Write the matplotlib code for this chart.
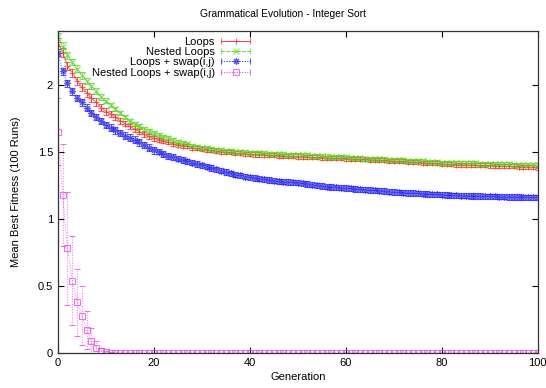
import matplotlib
matplotlib.use("Agg")
import matplotlib.pyplot as plt
from matplotlib.ticker import FormatStrFormatter
from matplotlib.legend_handler import HandlerErrorbar

# -----------------------------
# Data
# -----------------------------
generations = list(range(101))

loops = [
    2.32, 2.24, 2.14, 2.09, 2.03, 1.98, 1.94, 1.90, 1.87, 1.83, 1.80,
    1.78, 1.76, 1.73, 1.71, 1.69, 1.67, 1.65, 1.63, 1.615, 1.60,
    1.59, 1.58, 1.57, 1.56, 1.55, 1.545, 1.54, 1.53, 1.525, 1.52,
    1.515, 1.51, 1.505, 1.50, 1.50, 1.495, 1.49, 1.49, 1.485, 1.485,
    1.48, 1.48, 1.478, 1.476, 1.474, 1.472, 1.47, 1.468, 1.466, 1.465,
    1.463, 1.462, 1.46, 1.458, 1.457, 1.455, 1.454, 1.452, 1.451, 1.45,
    1.448, 1.446, 1.445, 1.443, 1.441, 1.44, 1.438, 1.436, 1.434, 1.432,
    1.43, 1.428, 1.426, 1.424, 1.422, 1.42, 1.418, 1.416, 1.413, 1.41,
    1.408, 1.406, 1.405, 1.404, 1.403, 1.402, 1.401, 1.400, 1.399, 1.398,
    1.396, 1.394, 1.393, 1.392, 1.391, 1.39, 1.388, 1.386, 1.384, 1.382,
]
loops_err = [
    0.03, 0.03, 0.03, 0.03, 0.03, 0.03, 0.03, 0.028, 0.028, 0.026, 0.025,
    0.024, 0.023, 0.022, 0.021, 0.02, 0.02, 0.019, 0.018, 0.018, 0.017,
] + [0.015] * 80

nested = [
    2.36, 2.29, 2.22, 2.17, 2.12, 2.07, 2.03, 1.99, 1.95, 1.91, 1.88,
    1.85, 1.82, 1.79, 1.76, 1.73, 1.71, 1.69, 1.67, 1.655, 1.64,
    1.625, 1.61, 1.60, 1.585, 1.575, 1.565, 1.555, 1.545, 1.538, 1.53,
    1.525, 1.52, 1.515, 1.51, 1.507, 1.504, 1.501, 1.498, 1.496, 1.494,
    1.492, 1.49, 1.488, 1.486, 1.484, 1.482, 1.48, 1.479, 1.478, 1.477,
    1.475, 1.473, 1.471, 1.469, 1.467, 1.465, 1.463, 1.461, 1.46, 1.458,
    1.456, 1.454, 1.452, 1.45, 1.448, 1.446, 1.445, 1.443, 1.442, 1.44,
    1.438, 1.436, 1.434, 1.432, 1.43, 1.428, 1.426, 1.424, 1.422, 1.42,
    1.419, 1.418, 1.417, 1.416, 1.415, 1.414, 1.413, 1.412, 1.411, 1.41,
    1.409, 1.408, 1.407, 1.406, 1.405, 1.404, 1.403, 1.402, 1.401, 1.40,
]
nested_err = [
    0.025, 0.025, 0.025, 0.025, 0.024, 0.024, 0.023, 0.022, 0.022, 0.021, 0.02,
] + [0.015] * 90

swap = [
    2.24, 2.10, 2.01, 1.95, 1.90, 1.87, 1.83, 1.79, 1.76, 1.73, 1.70,
    1.68, 1.66, 1.64, 1.62, 1.605, 1.59, 1.57, 1.55, 1.53, 1.51,
    1.50, 1.485, 1.47, 1.46, 1.45, 1.44, 1.43, 1.42, 1.41, 1.40,
    1.39, 1.38, 1.37, 1.36, 1.35, 1.34, 1.33, 1.325, 1.315, 1.31,
    1.305, 1.30, 1.295, 1.29, 1.285, 1.28, 1.278, 1.275, 1.272, 1.27,
    1.265, 1.26, 1.255, 1.25, 1.245, 1.24, 1.238, 1.235, 1.232, 1.23,
    1.227, 1.224, 1.22, 1.218, 1.215, 1.212, 1.21, 1.207, 1.204, 1.20,
    1.198, 1.196, 1.194, 1.192, 1.19, 1.188, 1.186, 1.184, 1.182, 1.18,
    1.178, 1.176, 1.175, 1.174, 1.173, 1.172, 1.171, 1.17, 1.169, 1.168,
    1.167, 1.166, 1.165, 1.164, 1.163, 1.162, 1.161, 1.16, 1.16, 1.16,
]
swap_err = [0.025] * 21 + [0.02] * 80

nested_swap = [
    1.65, 1.18, 0.78, 0.54, 0.38, 0.28, 0.17, 0.09, 0.04, 0.015, 0.005,
    0.002,
] + [0.0] * 89
nested_swap_err = [
    0.25, 0.38, 0.42, 0.33, 0.25, 0.22, 0.14, 0.10, 0.05, 0.025, 0.01,
    0.005,
] + [0.0] * 89

labels = ["Loops", "Nested Loops", "Loops + swap(i,j)", "Nested Loops + swap(i,j)"]

# -----------------------------
# Plot
# -----------------------------
plt.rcParams["font.family"] = ["Liberation Sans", "DejaVu Sans"]
plt.rcParams["font.size"] = 8

fig = plt.figure(figsize=(5.46, 3.88), dpi=100)
ax = fig.add_axes([0.106, 0.090, 0.879, 0.830])

series = [
    (loops, loops_err, "#ff3030", "+", "-", 5),
    (nested, nested_err, "#55dd22", "x", "--", 4),
    (swap, swap_err, "#2222ff", (8, 2, 0), ":", 5),
    (nested_swap, nested_swap_err, "#ee44ee", "s", ":", 4),
]

handles = []
for (vals, err, color, marker, ls, ms), label in zip(series, labels):
    style = dict(
        color=color, alpha=0.75, linewidth=0.7, linestyle=ls,
        marker=marker, markersize=ms, markerfacecolor="none",
        markeredgewidth=0.8, elinewidth=0.7, capsize=2.0, capthick=0.7,
    )
    eb = ax.errorbar(generations, vals, yerr=err, **style)
    eb[-1][0].set_linestyle(ls)
    # gnuplot-style legend sample: horizontal bar with end caps
    dummy = ax.errorbar([-50], [-50], xerr=[1], label=label, **style)
    dummy[-1][0].set_linestyle(ls)
    handles.append(dummy)

ax.set_xlim(0, 100)
ax.set_ylim(0, 2.4)
ax.set_xticks([0, 20, 40, 60, 80, 100])
ax.set_yticks([0, 0.5, 1, 1.5, 2])
ax.yaxis.set_major_formatter(FormatStrFormatter("%g"))
ax.tick_params(direction="in", top=True, right=True, length=4, width=0.8)
for sp in ax.spines.values():
    sp.set_linewidth(0.9)
    sp.set_color("#333333")

fig.text(283 / 546, 1 - 14 / 388, "Grammatical Evolution - Integer Sort",
         fontsize=7.4, ha="center", va="center")
ax.set_xlabel("Generation", fontsize=8, labelpad=3)
ax.set_ylabel("Mean Best Fitness (100 Runs)", fontsize=8, labelpad=12)

leg = ax.legend(
    handles=handles, labels=labels,
    loc="upper right", bbox_to_anchor=(258 / 546, 0.925),
    bbox_transform=fig.transFigure, frameon=False, markerfirst=False,
    fontsize=8, handlelength=2.6, labelspacing=0.02, borderpad=0.2,
    handletextpad=0.6,
    handler_map={type(handles[0]): HandlerErrorbar(xerr_size=1.3)},
)
for t in leg.get_texts():
    t.set_ha("right")

fig.savefig("out.png", dpi=100)
plt.close(fig)
